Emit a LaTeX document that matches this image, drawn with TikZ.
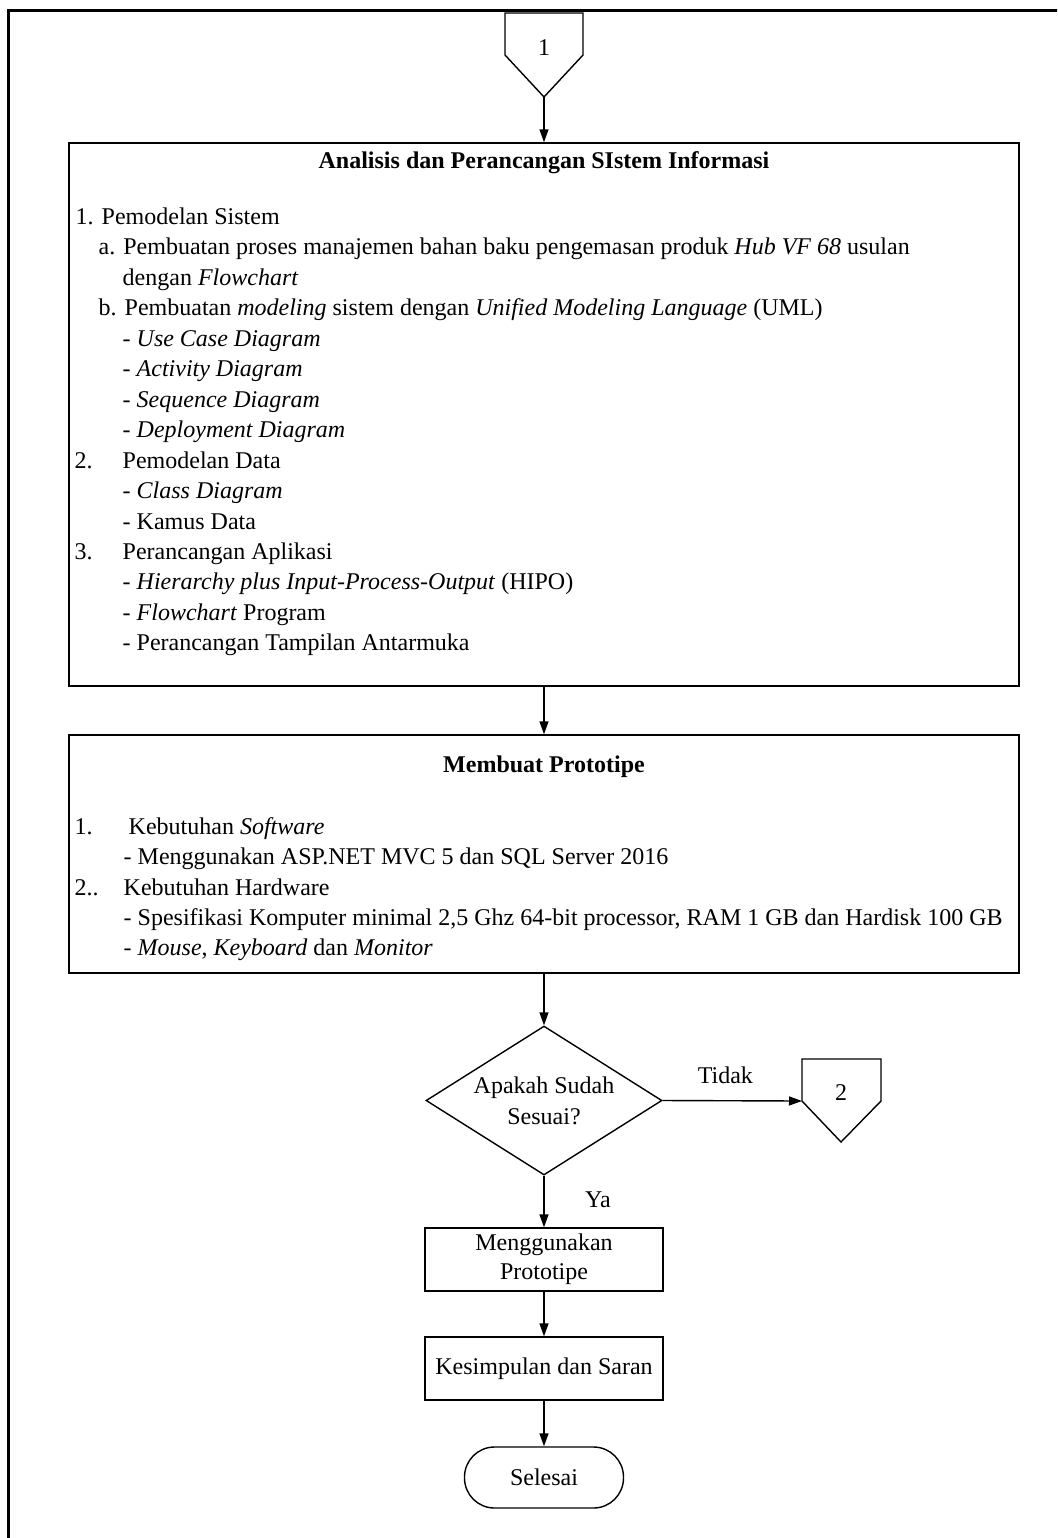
\documentclass[tikz,border=0pt]{standalone}
\usepackage{fontspec}
\setmainfont{Liberation Serif}
\usetikzlibrary{shapes.geometric,arrows.meta}
\begin{document}
\begin{tikzpicture}[x=0.5pt,y=-0.5pt,
  line width=0.7pt,
  flow/.style={-{Triangle[length=6.5pt,width=4.5pt]}},
  txt/.style={anchor=base west,inner sep=0pt,font=\fontsize{12}{14}\selectfont},
  ttl/.style={anchor=base,inner sep=0pt,font=\fontsize{12}{14}\selectfont\bfseries},
  boxnode/.style={draw,rectangle,inner sep=0pt},
  lbl/.style={inner sep=0pt,font=\fontsize{12}{14}\selectfont},
]
\useasboundingbox (0,0) rectangle (1057,1538);
\clip (0,0) rectangle (1057,1538);

% page frame
\draw[line width=1.5pt] (8.7,10) rectangle (1120,1600);

% on-page connector 1
\draw (505,13) -- (583,13) -- (583,55) -- (544,97) -- (505,55) -- cycle;
\coordinate (c1out) at (544,97);
\node[lbl] (c1) at (544,48) {1};

% analysis and design box
\node[boxnode,minimum width=475pt,minimum height=271.5pt] (b1) at (544,414.5) {};
\node[ttl] (b1t) at (544,168) {Analisis dan Perancangan SIstem Informasi};
\node[txt] (r1)  at (75,224.5)  {1. Pemodelan Sistem};
\node[txt] (r2)  at (98,254.9)  {a. Pembuatan proses manajemen bahan baku pengemasan produk \textit{Hub VF 68} usulan};
\node[txt] (r3)  at (122,285.4) {dengan \textit{Flowchart}};
\node[txt] (r4)  at (98,315.8)  {b. Pembuatan \textit{modeling} sistem dengan \textit{Unified Modeling Language} (UML)};
\node[txt] (r5)  at (122,346.3) {- \textit{Use Case Diagram}};
\node[txt] (r6)  at (122,376.7) {- \textit{Activity Diagram}};
\node[txt] (r7)  at (122,407.2) {- \textit{Sequence Diagram}};
\node[txt] (r8)  at (122,437.6) {- \textit{Deployment Diagram}};
\node[txt] (r9n) at (74,468.1)  {2.};
\node[txt] (r9)  at (122,468.1) {Pemodelan Data};
\node[txt] (r10) at (122,498.5) {- \textit{Class Diagram}};
\node[txt] (r11) at (122,529)   {- Kamus Data};
\node[txt] (r12n) at (74,559.4) {3.};
\node[txt] (r12) at (122,559.4) {Perancangan Aplikasi};
\node[txt] (r13) at (122,589.9) {- \textit{Hierarchy plus Input-Process-Output} (HIPO)};
\node[txt] (r14) at (122,620.3) {- \textit{Flowchart} Program};
\node[txt] (r15) at (122,650.8) {- Perancangan Tampilan Antarmuka};

% prototype box
\node[boxnode,minimum width=475pt,minimum height=119pt] (b2) at (544,854) {};
\node[ttl] (b2t) at (544,772) {Membuat Prototipe};
\node[txt] (p1n) at (74,834)    {1.};
\node[txt] (p1)  at (128,834)   {Kebutuhan \textit{Software}};
\node[txt] (p2)  at (123,864.5) {- Menggunakan ASP.NET MVC 5 dan SQL Server 2016};
\node[txt] (p3n) at (74,895)    {2..};
\node[txt] (p3)  at (123,895)   {Kebutuhan Hardware};
\node[txt] (p4)  at (123,925.5) {- Spesifikasi Komputer minimal 2,5 Ghz 64-bit processor, RAM 1 GB dan Hardisk 100 GB};
\node[txt] (p5)  at (123,955.5) {- \textit{Mouse}, \textit{Keyboard} dan \textit{Monitor}};

% decision
\node[draw,diamond,aspect=1.58,minimum width=118pt,minimum height=74.5pt,inner sep=0pt,
      align=center,font=\fontsize{12}{15.5}\selectfont] (dec) at (544,1100.5) {Apakah Sudah\\Sesuai?};

% off-page connector 2
\draw (802,1059) -- (881,1059) -- (881,1101) -- (841,1142) -- (802,1101) -- cycle;
\coordinate (c2in) at (802,1101);
\node[lbl] (c2) at (841,1093) {2};

% remaining steps
\node[boxnode,minimum width=119pt,minimum height=31.5pt,align=center,
      font=\fontsize{12}{14.5}\selectfont] (b3) at (544,1259.5) {Menggunakan\\Prototipe};
\node[boxnode,minimum width=119pt,minimum height=31.5pt,lbl] (b4) at (544,1368.5) {Kesimpulan dan Saran};
\node[draw,rounded corners=15pt,minimum width=79.5pt,minimum height=30.5pt,lbl] (end) at (544,1477.5) {Selesai};

% flow lines
\draw[flow] (c1out) -- (b1.north);
\draw[flow] (b1.south) -- (b2.north);
\draw[flow] (b2.south) -- (dec.north);
\draw[flow] (dec.east) -- (c2in) node[lbl,pos=0.45,above=8pt] (tidak) {Tidak};
\draw[flow] (dec.south) -- (b3.north);
\draw[flow] (b3.south) -- (b4.north);
\draw[flow] (b4.south) -- (end.north);
\node[lbl] (ya) at (598,1200) {Ya};
\end{tikzpicture}
\end{document}
